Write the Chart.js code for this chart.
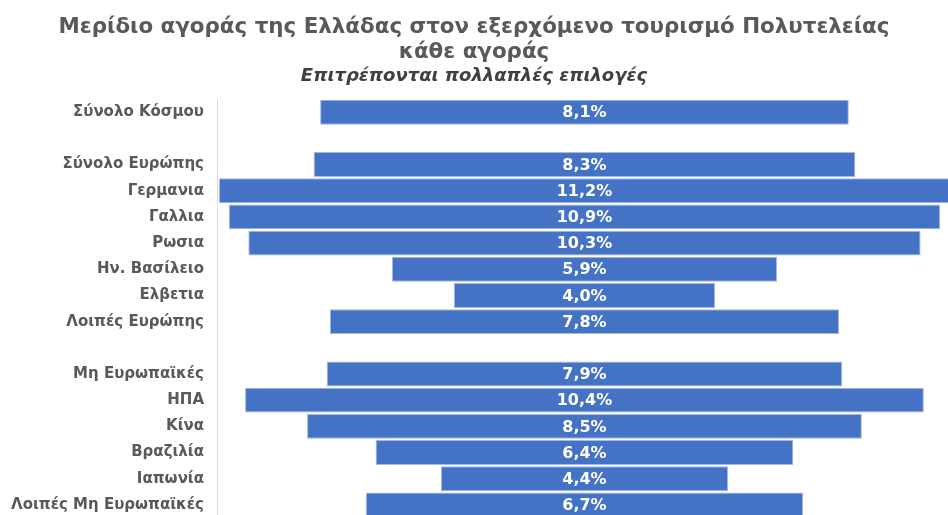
<!DOCTYPE html>
<html>
<head>
<meta charset="utf-8">
<script src="https://cdn.jsdelivr.net/npm/chart.js@4/dist/chart.umd.min.js"></script>
<style>
  html, body { margin: 0; padding: 0; background: #fff; overflow: hidden; }
  #wrap { width: 948px; height: 532px; position: relative; }
</style>
</head>
<body>
<div id="wrap"><canvas id="chart"></canvas></div>
<script>
// categories (blank entries are spacer rows)
const markets = [
  "Σύνολο Κόσμου",
  "",
  "Σύνολο Ευρώπης",
  "Γερμανια",
  "Γαλλια",
  "Ρωσια",
  "Ην. Βασίλειο",
  "Ελβετια",
  "Λοιπές Ευρώπης",
  " ",
  "Μη Ευρωπαϊκές",
  "ΗΠΑ",
  "Κίνα",
  "Βραζιλία",
  "Ιαπωνία",
  "Λοιπές Μη Ευρωπαϊκές",
];
const shares = [8.1, null, 8.3, 11.2, 10.9, 10.3, 5.9, 4.0, 7.8, null, 7.9, 10.4, 8.5, 6.4, 4.4, 6.7];

const labelFont = '"DejaVu Sans", Verdana, sans-serif';

// bars are centred on zero, so each one spans [-v/2, v/2]
const spans = shares.map((v) => (v == null ? null : [-v / 2, v / 2]));

// draw the value in the middle of each bar
const valueLabels = {
  id: "valueLabels",
  afterDatasetsDraw(chart) {
    const ctx = chart.ctx;
    const meta = chart.getDatasetMeta(0);
    ctx.save();
    ctx.fillStyle = "#ffffff";
    ctx.font = "bold 16px " + labelFont;
    ctx.textAlign = "center";
    ctx.textBaseline = "middle";
    meta.data.forEach((bar, i) => {
      if (shares[i] == null) return;
      const x = chart.scales.x.getPixelForValue(0);
      ctx.fillText(shares[i].toFixed(1).replace(".", ",") + "%", x, bar.y + 1);
    });
    ctx.restore();
  },
};

new Chart(document.getElementById("chart"), {
  type: "bar",
  data: {
    labels: markets,
    datasets: [
      {
        data: spans,
        backgroundColor: "#4472C4",
        borderColor: "#A3B8E3",
        borderWidth: 1,
        borderSkipped: false,
        barPercentage: 0.95,
        categoryPercentage: 1,
      },
    ],
  },
  plugins: [valueLabels],
  options: {
    indexAxis: "y",
    responsive: true,
    maintainAspectRatio: false,
    animation: false,
    layout: { padding: { left: 0, right: 0, top: 0, bottom: 0 } },
    plugins: {
      legend: { display: false },
      tooltip: { enabled: false },
      title: {
        display: true,
        text: ["Μερίδιο αγοράς της Ελλάδας στον εξερχόμενο τουρισμό Πολυτελείας", "κάθε αγοράς"],
        color: "#595959",
        font: { family: '"DejaVu Sans", sans-serif', size: 21.4, weight: "bold", lineHeight: 1.18 },
        padding: { top: 15, bottom: 0 },
      },
      subtitle: {
        display: true,
        text: "Επιτρέπονται πολλαπλές επιλογές",
        color: "#404040",
        font: { family: '"DejaVu Sans", sans-serif', size: 18, weight: "bold", style: "italic", lineHeight: 1.2 },
        padding: { top: 0, bottom: 12 },
      },
    },
    scales: {
      x: {
        display: false,
        min: -5.63,
        max: 5.57,
      },
      y: {
        grid: { display: false },
        border: { display: true, color: "#D9D9D9", width: 1 },
        ticks: {
          color: "#595959",
          font: { family: labelFont, size: 15, weight: "bold" },
          padding: 5,
          autoSkip: false,
        },
        afterFit(scale) {
          scale.width = 217;
        },
      },
    },
  },
});
</script>
</body>
</html>
